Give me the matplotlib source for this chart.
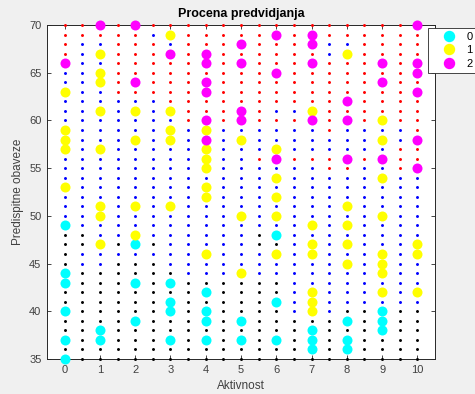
import numpy as np
import matplotlib
matplotlib.use('Agg')
import matplotlib.pyplot as plt
from matplotlib.lines import Line2D

plt.rcParams['font.family'] = ['Liberation Sans', 'DejaVu Sans']

# Decision-grid: x = 0..10 step 0.5, y = 70 down to 35; k=class 0, b=class 1, r=class 2
grid_x = np.arange(0, 10.01, 0.5)
grid_y = list(range(70, 34, -1))
grid_rows = [
    "rrrrrrrrrrr" + "rrrrrrrrrr",  # 70
    "rrrrrbbrrrr" + "rrrrrrrrrr",  # 69
    "rbbrrrbrrrr" + "rrrrbbrrrr",  # 68
    "rbbrrrrrrrr" + "rrrrbbrrrr",  # 67
    "rbbrrrrrrrr" + "rrrrrrrrrr",  # 66
    "bbbrrrrrrrr" + "rrrrrrrrrr",  # 65
    "bbbrrrrrrrr" + "rrrrrrrrrr",  # 64
    "bbbrrrrrrrr" + "rrrrrrrrrr",  # 63
    "bbbbbbrrrrr" + "rrrrrrrrrr",  # 62
    "bbbbbbbrrrr" + "rbbbrrrrrr",  # 61
    "bbbbbbbrrrr" + "rrrrrrrrrr",  # 60
    "bbbbbbbbbbb" + "bbbbrbbbbr",  # 59
    "bbbbbbbbbbb" + "bbbbbbbbbb",  # 58
    "bbbbbbbbbbb" + "bbbbbbbbrr",  # 57
    "bbbbbbbbbbb" + "rrrrrrrrrr",  # 56
    "bbbbbbbbbbb" + "bbbbrrbbrr",  # 55
    "bbbbbbbbbbb" + "bbbbbbbbbb",  # 54
    "bbbbbbbbbbb" + "bbbbbbbbbb",  # 53
    "bbbbbbbbbbb" + "bbbbbbbbbb",  # 52
    "bbbbbbbbbbb" + "bbbbbbbbbb",  # 51
    "bbbbbbbbbbb" + "bbbbbbbbbb",  # 50
    "bbbbbbbbbbb" + "bbbbbbbbbb",  # 49
    "kkbbbbbbbbb" + "kkbbbbbbbb",  # 48
    "kkbkkkbbbbb" + "kkbbbbbbbb",  # 47
    "kbbbbbbbbbb" + "bbbbbbbbbb",  # 46
    "kbbkkkbbbbb" + "bbbbbbbbbb",  # 45
    "kkkkkkkbbbb" + "bbbbbbbbbb",  # 44
    "kkkkkkkkkkk" + "kkbbbbbbbb",  # 43
    "kkkkkkkkkkk" + "kkbbbbbbbb",  # 42
    "kkkkkkkkkkk" + "kkbbbbbbbb",  # 41
    "kkkkkkkkkkk" + "kkbbbkkkkk",  # 40
    "kkkkkkkkkkk" + "kkkkkkkkkk",  # 39
    "kkkkkkkkkkk" + "kkkkkkkkkk",  # 38
    "kkkkkkkkkkk" + "kkkkkkkkkk",  # 37
    "kkkkkkkkkkk" + "kkkkkkkkkk",  # 36
    "kkkkkkkkkkk" + "kkkkkkkkkk",  # 35
]

# Data points (Aktivnost, Predispitne obaveze) per class
c0_x = [0, 0, 0, 0, 0, 0, 1, 1, 2, 2, 2, 3, 3, 3, 3, 4, 4, 4, 4, 5, 5, 6, 6, 6, 7, 7, 7, 8, 8, 8, 9, 9, 9]
c0_y = [49, 44, 43, 40, 37, 35, 38, 37, 47, 43, 39, 43, 41, 40, 37, 42, 40, 39, 37, 39, 37, 48, 41, 37, 38, 37, 36, 39, 37, 36, 40, 39, 38]

c1_x = [0, 0, 0, 0, 0,
        1, 1, 1, 1, 1, 1, 1, 1,
        2, 2, 2, 2,
        3, 3, 3, 3, 3,
        4, 4, 4, 4, 4, 4, 4,
        5, 5, 5,
        6, 6, 6, 6, 6,
        7, 7, 7, 7, 7, 7, 7,
        8, 8, 8, 8, 8,
        9, 9, 9, 9, 9, 9, 9, 9,
        10, 10, 10]
c1_y = [63, 59, 58, 57, 53,
        67, 65, 64, 61, 57, 51, 50, 47,
        61, 58, 51, 48,
        69, 61, 59, 58, 51,
        59, 57, 56, 55, 53, 52, 46,
        58, 50, 44,
        57, 54, 52, 50, 46,
        61, 49, 47, 46, 42, 41, 40,
        67, 51, 49, 47, 45,
        60, 58, 54, 50, 46, 45, 44, 42,
        47, 46, 42]

c2_x = [0, 1, 2, 2, 3, 4, 4, 4, 4, 4, 4, 5, 5, 5, 5, 6, 6, 6, 7, 7, 7, 7, 8, 8, 8, 9, 9, 9, 10, 10, 10, 10, 10, 10]
c2_y = [66, 70, 70, 64, 67, 67, 66, 64, 63, 60, 58, 68, 66, 61, 60, 69, 65, 56, 69, 68, 66, 60, 62, 60, 56, 66, 64, 56, 70, 66, 65, 63, 58, 55]

class_labels = ['0', '1', '2']
point_colors = ['#00ffff', '#ffff00', '#ff00ff']
grid_colors = {'k': '#000000', 'b': '#0000ff', 'r': '#ff0000'}

fig = plt.figure(figsize=(4.75, 3.94), dpi=100)
fig.patch.set_facecolor('#f0f0f0')
ax = fig.add_axes([47 / 475, 1 - 359 / 394, (435 - 47) / 475, (359 - 25) / 394])
ax.set_facecolor('white')

for code, col in grid_colors.items():
    xs, ys = [], []
    for yv, row in zip(grid_y, grid_rows):
        for xv, ch in zip(grid_x, row):
            if ch == code:
                xs.append(xv)
                ys.append(yv)
    ax.scatter(xs, ys, s=4.5, c=col, linewidths=0, zorder=2, clip_on=False)

handles = []
for px, py, col, lab in zip([c0_x, c1_x, c2_x], [c0_y, c1_y, c2_y], point_colors, class_labels):
    ax.scatter(px, py, s=52, c=col, linewidths=0, zorder=3, clip_on=False)
    handles.append(Line2D([], [], marker='o', linestyle='none', markersize=7.2,
                          markerfacecolor=col, markeredgecolor=col, label=lab))

ax.set_xlim(-0.5, 10.5)
ax.set_ylim(35, 70)
ax.set_xticks(range(0, 11))
ax.set_yticks(range(35, 71, 5))
tick_col = '#404040'
ax.tick_params(direction='in', top=True, right=True, length=3, width=0.6,
               labelsize=8, colors='#262626', labelcolor=tick_col, pad=4)
for sp in ax.spines.values():
    sp.set_color('#262626')
    sp.set_linewidth(0.7)
    sp.set_zorder(1)

ax.set_title('Procena predvidjanja', fontsize=9, fontweight='bold', pad=6)
ax.set_xlabel('Aktivnost', fontsize=8.5, color=tick_col, labelpad=4)
ax.set_ylabel('Predispitne obaveze', fontsize=8.5, color=tick_col, labelpad=4)

leg = fig.legend(handles=handles, loc='upper left',
                 bbox_to_anchor=(428 / 475, 1 - 28 / 394), fontsize=8,
                 frameon=True, fancybox=False, borderaxespad=0, borderpad=0.35,
                 handlelength=3.0, handletextpad=0.1, labelspacing=0.31)
leg.get_frame().set_edgecolor('#262626')
leg.get_frame().set_linewidth(0.6)
leg.get_frame().set_facecolor('white')
leg.get_frame().set_alpha(1)

fig.savefig('out.png', dpi=100, facecolor=fig.get_facecolor())
